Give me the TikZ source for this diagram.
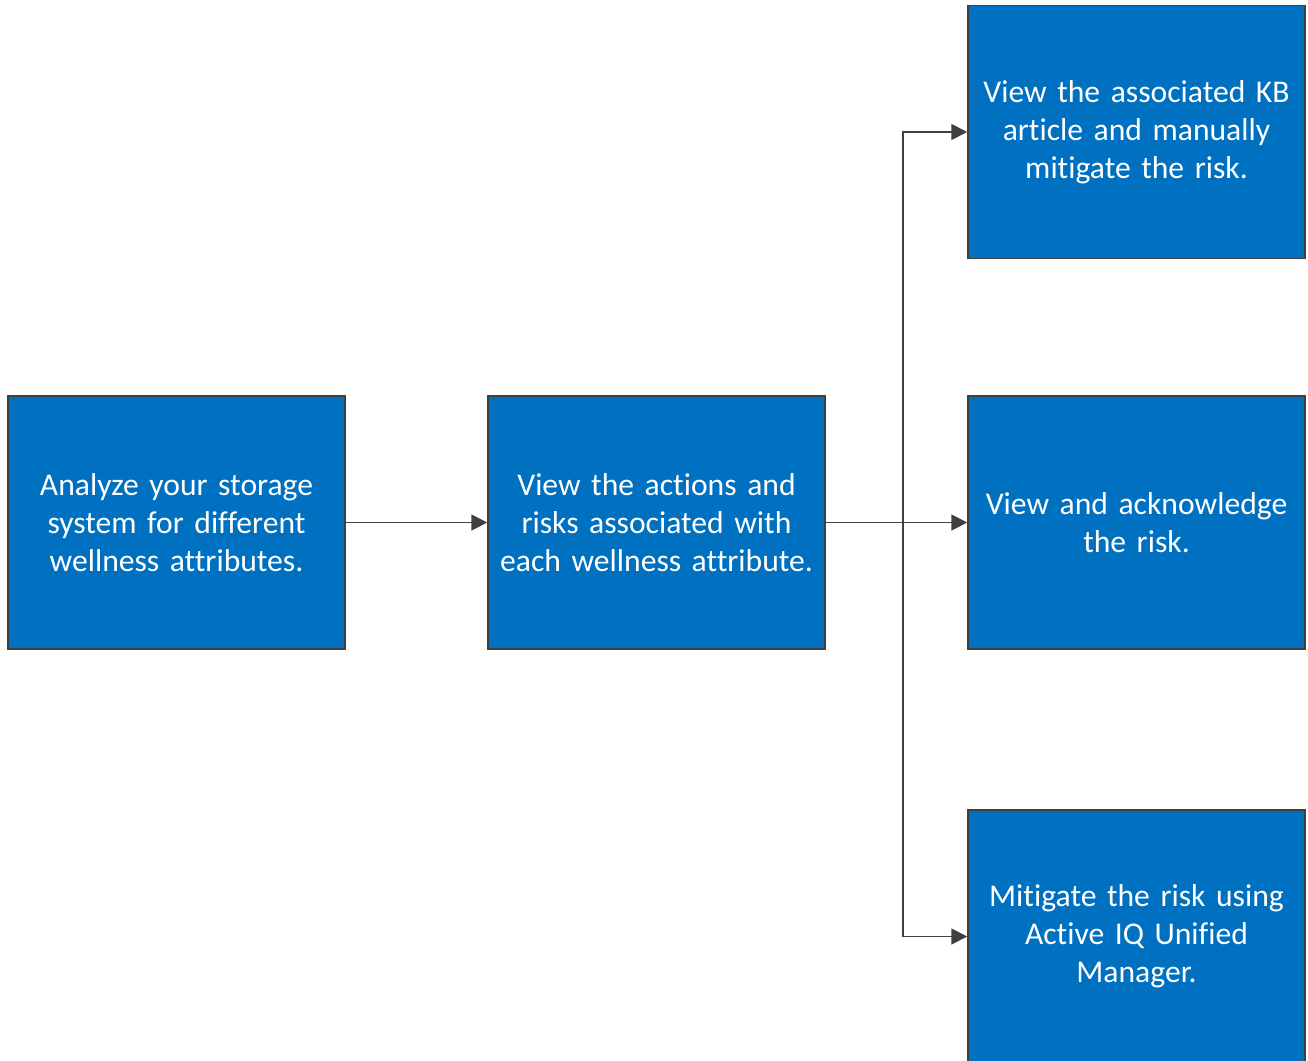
\documentclass[tikz,border=0pt]{standalone}
\usepackage{fontspec}
\setmainfont[Ligatures=NoCommon]{Carlito}
\usepackage{xcolor}
\definecolor{boxblue}{HTML}{0070C0}
\definecolor{boxline}{HTML}{3F3F3F}
\definecolor{arrgray}{HTML}{404040}
\usetikzlibrary{arrows.meta}

\begin{document}
\begin{tikzpicture}[x=0.02cm, y=-0.02cm, align=center]

\tikzstyle{step box}=[
	rectangle,
	minimum width=6.74cm,
	minimum height=5.06cm,
	text width=6.3cm,
	draw=boxline,
	line width=0.9pt,
	fill=boxblue,
	text=white,
	font=\fontsize{18}{21.6}\selectfont
]
\tikzstyle{arr}=[-{Triangle[length=9pt, width=9pt]}, draw=arrgray,
	line width=1.1pt]

\useasboundingbox (0, 0) rectangle (1308, 1061);

\node[step box] (analyze) at (176.5, 522.5)
	{Analyze your storage\\system for different\\wellness attributes.};
\node[step box] (actions) at (656.5, 522.5)
	{View the actions and\\risks associated with\\each wellness attribute.};
\node[step box] (kb) at (1136.5, 132)
	{View the associated KB\\article and manually\\mitigate the risk.};
\node[step box] (ack) at (1136.5, 522.5)
	{View and acknowledge\\the risk.};
\node[step box] (aiqum) at (1136.5, 936.5)
	{Mitigate the risk using\\Active IQ Unified\\Manager.};

\coordinate (split) at (903, 522.5);

\draw[arr] (analyze) -> (actions);
\draw[arr] (actions) -> (ack);
\draw[arr] (split) |- (kb);
\draw[arr] (split) |- (aiqum);

\end{tikzpicture}
\end{document}
